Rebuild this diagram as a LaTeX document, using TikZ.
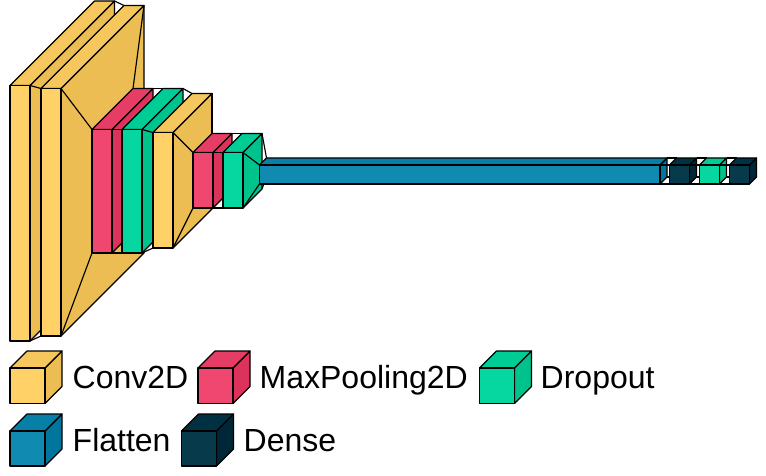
\documentclass[tikz,border=0pt]{standalone}
\usepackage{fontspec}
\setmainfont{Liberation Sans}
\usepackage{xcolor}
\usetikzlibrary{positioning}

\definecolor{conv}{HTML}{FFD166}
\definecolor{convtop}{HTML}{F5C75C}
\definecolor{convside}{HTML}{EBBD52}
\definecolor{pool}{HTML}{EF476F}
\definecolor{pooltop}{HTML}{E53D65}
\definecolor{poolside}{HTML}{DB335B}
\definecolor{drop}{HTML}{06D6A0}
\definecolor{droptop}{HTML}{00CC96}
\definecolor{dropside}{HTML}{00C28C}
\definecolor{flat}{HTML}{118AB2}
\definecolor{flattop}{HTML}{0780A8}
\definecolor{flatside}{HTML}{00769E}
\definecolor{dense}{HTML}{073B4C}
\definecolor{densetop}{HTML}{003142}
\definecolor{denseside}{HTML}{002738}

% name, left, top, right, bottom, depth
\newcommand{\layerat}[6]{%
  \coordinate (#1-nw) at (#2,#3);
  \coordinate (#1-ne) at (#4,#3);
  \coordinate (#1-sw) at (#2,#5);
  \coordinate (#1-se) at (#4,#5);
  \coordinate (#1-bnw) at ({#2+#6},{#3-#6});
  \coordinate (#1-bne) at ({#4+#6},{#3-#6});
  \coordinate (#1-bsw) at ({#2+#6},{#5-#6});
  \coordinate (#1-bse) at ({#4+#6},{#5-#6});
}
% name, colour family
\newcommand{\layerbox}[2]{%
  \draw[edgeline,fill=#2side] (#1-ne) -- (#1-bne) -- (#1-bse) -- (#1-se) -- cycle;
  \draw[edgeline,fill=#2top] (#1-nw) -- (#1-bnw) -- (#1-bne) -- (#1-ne) -- cycle;
  \draw[edgeline,fill=#2] (#1-nw) -- (#1-ne) -- (#1-se) -- (#1-sw) -- cycle;
}
\newcommand{\funnel}[2]{%
  \draw[edgeline] (#1-ne) -- (#2-nw);
  \draw[edgeline] (#1-bne) -- (#2-bnw);
  \draw[edgeline] (#1-se) -- (#2-sw);
  \draw[edgeline] (#1-bse) -- (#2-bsw);
}

\begin{document}
\begin{tikzpicture}[%
    x=1pt,
    y=-1pt,
    edgeline/.style={%
      draw=black,
      line width=1.15pt,
      line join=round
    },
    legendtext/.style={%
      anchor=base west,
      inner sep=0pt,
      font=\fontsize{32}{36}\selectfont
    }
  ]
    \useasboundingbox (0,0) rectangle (766,476);

    \layerat{c1}{10}{85.5}{30}{341}{84.5}
    \layerat{c2}{41}{88.5}{61}{336}{83}
    \layerat{m1}{92}{129.5}{112}{253}{41}
    \layerat{d1}{122}{129.5}{142}{253}{41}
    \layerat{c3}{153}{132.5}{173}{248}{39}
    \layerat{m2}{193}{152.5}{213}{208}{19}
    \layerat{d2}{223}{152.5}{243}{208}{19}
    \layerat{f1}{259.5}{165}{660}{184}{7}
    \layerat{n1}{669.5}{165}{689.5}{184}{7}
    \layerat{d3}{699.5}{165}{719.5}{184}{7}
    \layerat{n2}{729.5}{165}{749.5}{184}{7}

    \layerbox{c1}{conv}
    \funnel{c1}{c2}
    \layerbox{c2}{conv}
    \funnel{c2}{m1}
    \layerbox{m1}{pool}
    \funnel{m1}{d1}
    \layerbox{d1}{drop}
    \funnel{d1}{c3}
    \layerbox{c3}{conv}
    \funnel{c3}{m2}
    \layerbox{m2}{pool}
    \funnel{m2}{d2}
    \layerbox{d2}{drop}
    \funnel{d2}{f1}
    \layerbox{f1}{flat}
    \funnel{f1}{n1}
    \layerbox{n1}{dense}
    \funnel{n1}{d3}
    \layerbox{d3}{drop}
    \funnel{d3}{n2}
    \layerbox{n2}{dense}

    % legend
    \layerat{lconv}{10}{368}{45}{403.5}{17}
    \layerat{lpool}{198}{368}{233}{403.5}{17}
    \layerat{ldrop}{479.5}{368}{514.5}{403.5}{17}
    \layerat{lflat}{10}{431}{45}{466}{17}
    \layerat{ldense}{181.5}{431}{216.5}{466}{17}
    \layerbox{lconv}{conv}
    \layerbox{lpool}{pool}
    \layerbox{ldrop}{drop}
    \layerbox{lflat}{flat}
    \layerbox{ldense}{dense}

    \node[legendtext] (tconv)  at (72.5,388.5) {Conv2D};
    \node[legendtext] (tpool)  at (259.5,388.5) {MaxPooling2D};
    \node[legendtext] (tdrop)  at (540.5,388.5) {Dropout};
    \node[legendtext] (tflat)  at (72.5,451)    {Flatten};
    \node[legendtext] (tdense) at (243.5,451)   {Dense};
  \end{tikzpicture}
\end{document}
